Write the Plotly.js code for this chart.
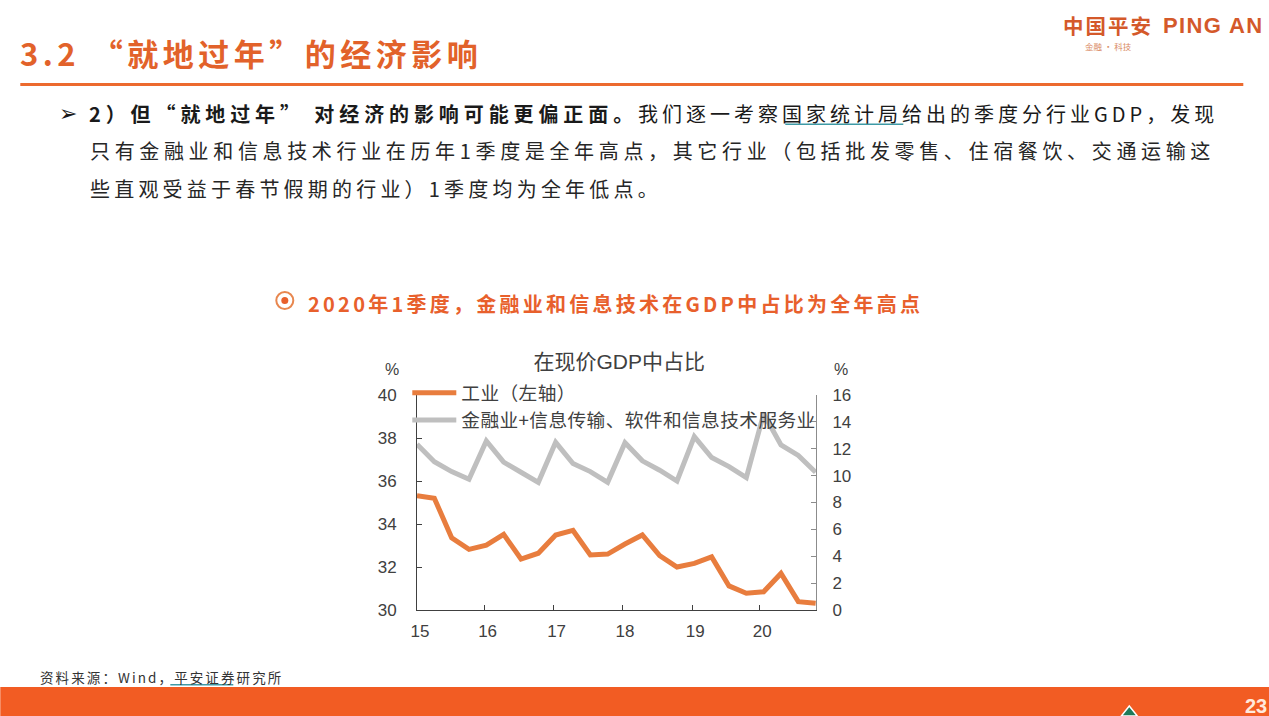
<!DOCTYPE html>
<html><head><meta charset="utf-8">
<script src="https://cdn.plot.ly/plotly-3.0.1.min.js"></script>
<style>
html,body{margin:0;padding:0;background:#fff;overflow:hidden}
.annotation[data-index="0"] text{letter-spacing:4.5px}
.annotation[data-index="1"] text{letter-spacing:4.0px}
.annotation[data-index="1"] text tspan[style*="bold"]{letter-spacing:4.9px}
.annotation[data-index="2"] text{letter-spacing:4.65px}
.annotation[data-index="3"] text{letter-spacing:4.2px}
.annotation[data-index="4"] text{letter-spacing:3.25px}
.annotation[data-index="5"] text{letter-spacing:2.1px}
.annotation[data-index="9"] text{letter-spacing:2px}
.annotation[data-index="10"] text{letter-spacing:1.4px}
.legendtext{letter-spacing:0.4px}
</style></head><body>
<div id="chart" style="width:1269px;height:716px"></div>
<script>
const quarters=["15Q1","15Q2","15Q3","15Q4","16Q1","16Q2","16Q3","16Q4","17Q1","17Q2","17Q3","17Q4","18Q1","18Q2","18Q3","18Q4","19Q1","19Q2","19Q3","19Q4","20Q1","20Q2","20Q3","20Q4"];
const quarterIndex=[0,1,2,3,4,5,6,7,8,9,10,11,12,13,14,15,16,17,18,19,20,21,22,23];
const industry=[35.32,35.2,33.36,32.82,33.02,33.52,32.37,32.64,33.49,33.7,32.56,32.6,33.07,33.49,32.53,32.0,32.17,32.47,31.12,30.78,30.85,31.7,30.39,30.31];
const financeIT=[12.33,11.04,10.3,9.73,12.58,11.0,10.25,9.5,12.48,10.9,10.3,9.5,12.45,11.1,10.4,9.6,12.9,11.35,10.67,9.85,14.6,12.28,11.5,10.25];
const yearTickPos=[0,3.9,7.88,11.83,15.88,19.75];
const yearLabels=["15","16","17","18","19","20"];
const leftTicks=[30,32,34,36,38,40];
const rightTicks=[0,2,4,6,8,10,12,14,16];
const industryName="工业（左轴）";
const financeName="金融业+信息传输、软件和信息技术服务业";
const chartTitle="在现价GDP中占比";
const pageTitle="3.2 “就地过年”的经济影响";
const bodyLine1="<b>2）但“就地过年” 对经济的影响可能更偏正面。</b>我们逐一考察国家统计局给出的季度分行业GDP，发现";
const bodyLine2="只有金融业和信息技术行业在历年1季度是全年高点，其它行业（包括批发零售、住宿餐饮、交通运输这";
const bodyLine3="些直观受益于春节假期的行业）1季度均为全年低点。";
const subhead="2020年1季度，金融业和信息技术在GDP中占比为全年高点";
const sourceNote="资料来源：Wind，平安证券研究所";

const W=1269,H=716,L=416.7,R=815.7,T=395,B=610;
const px=x=>(x-L)/(R-L), py=y=>(B-y)/(B-T);
const cjk='"Noto Sans CJK SC","Liberation Sans",sans-serif';
const sans='"Liberation Sans","Noto Sans CJK SC",sans-serif';
function note(text,x,y,size,color,extra){
  return Object.assign({text,x:px(x-2),y:py(y),xref:'paper',yref:'paper',xanchor:'left',yanchor:'middle',showarrow:false,
    font:{family:cjk,size,color},align:'left'},extra||{});
}
const annotations=[
  note("<b>"+pageTitle+"</b>",20,52,31,"#E2622A"),
  note(bodyLine1,89,113,20,"#1a1a1a"),
  note(bodyLine2,90,150,20,"#262626"),
  note(bodyLine3,90,188,20,"#262626"),
  note("<b>"+subhead+"</b>",308,303,20,"#E8602C"),
  note(sourceNote,40,677,13.5,"#333333"),
  note("<b>➢</b>",59,113,22,"#1a1a1a",{font:{family:'"DejaVu Sans"',size:22,color:"#1a1a1a"}}),
  note("%",394,369,16,"#404040",{xanchor:'center',font:{family:sans,size:16,color:"#404040"}}),
  note("%",843,369,16,"#404040",{xanchor:'center',font:{family:sans,size:16,color:"#404040"}}),
  note("<b>中国平安</b>",1063,25,20.5,"#D4592A"),
  note("<b>PING AN</b>",1163,25,22,"#D4592A",{font:{family:sans,size:22,color:"#D4592A"}}),
  note("金融 · 科技",1085,46,8.5,"#D98A63"),
  note("<b>23</b>",1271,706,20,"#FFE9DC",{xanchor:'right',font:{family:sans,size:20,color:"#FFE9DC"}})
];
function rect(x0,y0,x1,y1,color){
  return {type:'rect',xref:'paper',yref:'paper',x0:px(x0),x1:px(x1),y0:py(y0),y1:py(y1),fillcolor:color,line:{width:0},layer:'below'};
}
const shapes=[
  rect(20,83,1243,86,"#EC6A2E"),
  rect(0,687,1269,716,"#F25C23"),
  rect(785,123.5,903,125,"#3E9AA5"),
  rect(170,684,233,685.5,"#3E9AA5"),
  {type:'circle',xref:'paper',yref:'paper',x0:px(276),x1:px(293),y0:py(292),y1:py(309),line:{color:"#E8874F",width:2},fillcolor:"#fff"},
  {type:'circle',xref:'paper',yref:'paper',x0:px(281),x1:px(288),y0:py(297),y1:py(304),line:{width:0},fillcolor:"#E8602C"},
  {type:'path',xref:'paper',yref:'paper',path:`M ${px(1129)} ${py(706)} L ${px(1137)} ${py(716)} L ${px(1121)} ${py(716)} Z`,fillcolor:"#1E7B5A",line:{color:"#fff",width:1.5}}
];
const traces=[
  {x:quarterIndex,y:industry,text:quarters,name:industryName,type:'scatter',mode:'lines',xaxis:'x',yaxis:'y',line:{color:"#E87D3E",width:5,shape:'linear'},cliponaxis:false},
  {x:quarterIndex,y:financeIT,text:quarters,name:financeName,type:'scatter',mode:'lines',xaxis:'x',yaxis:'y2',line:{color:"#BFBFBF",width:5,shape:'linear'},cliponaxis:false}
];
const tickFont={family:sans,size:17,color:"#404040"};
const layout={
  width:W,height:H,paper_bgcolor:"#fff",plot_bgcolor:"rgba(0,0,0,0)",
  margin:{l:L,r:W-R,t:T,b:H-B,pad:0},
  title:{text:chartTitle,x:px(619),xref:'paper',xanchor:'center',y:1-362/H,yref:'container',yanchor:'middle',font:{family:sans,size:21,color:"#404040"}},
  showlegend:true,
  legend:{x:px(407),y:py(374),xanchor:'left',yanchor:'top',bgcolor:"rgba(0,0,0,0)",borderwidth:0,itemwidth:44,traceorder:'normal',
    font:{family:cjk,size:18.7,color:"#404040"},itemclick:false},
  xaxis:{range:[0,23.02],tickmode:'array',tickvals:yearTickPos,ticktext:yearLabels,ticks:'inside',ticklen:5,tickcolor:"#404040",tickwidth:1,
    showline:true,linecolor:"#404040",linewidth:1,showgrid:false,zeroline:false,tickfont:tickFont,ticklabelstandoff:6,ticklabelshift:3},
  yaxis:{range:[30,40],tickmode:'array',tickvals:leftTicks,ticks:'inside',ticklen:5,tickcolor:"#404040",tickwidth:1,
    showline:true,linecolor:"#404040",linewidth:1,showgrid:false,zeroline:false,tickfont:tickFont,ticklabelstandoff:16},
  yaxis2:{range:[0,16],overlaying:'y',side:'right',tickmode:'array',tickvals:rightTicks,ticks:'inside',ticklen:5,tickcolor:"#8c8c8c",tickwidth:1,
    showline:true,linecolor:"#8c8c8c",linewidth:1,showgrid:false,zeroline:false,tickfont:tickFont,ticklabelstandoff:12},
  annotations,shapes
};
Plotly.newPlot('chart',traces,layout,{displayModeBar:false,staticPlot:true});
</script></body></html>
